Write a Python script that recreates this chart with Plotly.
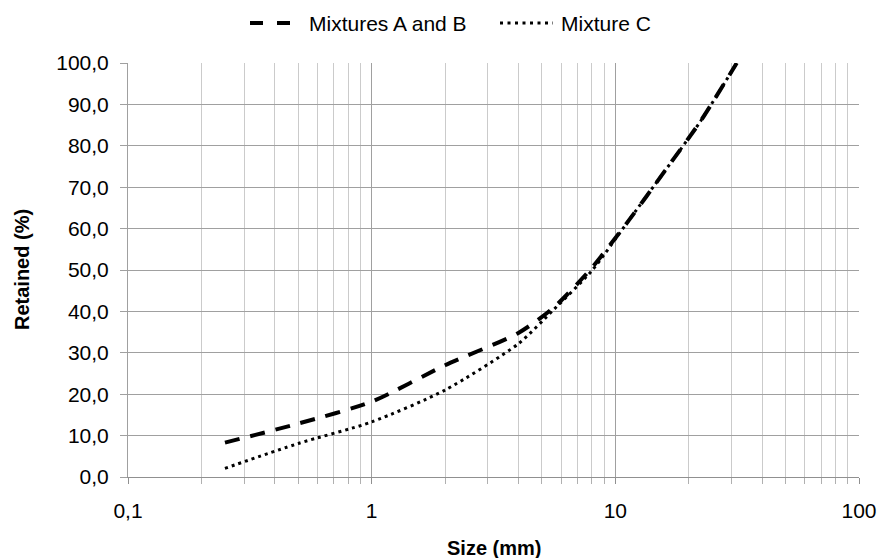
import plotly.graph_objects as go

sizes = [0.25, 0.5, 1, 2, 4, 5.6, 8, 11.2, 16, 22.4, 31.5]
mix_ab = [8.3, 12.9, 18.2, 27.0, 34.8, 41.0, 50.5, 61.5, 74.0, 86.0, 100.0]
mix_c = [2.1, 8.1, 13.3, 21.0, 32.2, 40.5, 49.8, 61.5, 74.0, 86.0, 100.0]

series_names = ["Mixtures A and B", "Mixture C"]
x_major = [0.1, 1, 10, 100]
x_major_text = ["0,1", "1", "10", "100"]
x_minor = [m * d for d in (0.1, 1, 10) for m in range(2, 10)]

FONT = "Liberation Sans, Arial, sans-serif"
FS = 21
W, H = 879, 558
ML, MR, MT, MB = 128, 20, 63, 81
PW, PH = W - ML - MR, H - MT - MB

def px(xpix):
    return (xpix - ML) / PW

def py(ypix):
    return (H - MB - ypix) / PH

DASH_AB = dict(color="black", width=4, dash="15px,11px")
DOT_C = dict(color="black", width=3, dash="3px,4px")

fig = go.Figure()
fig.add_trace(go.Scatter(x=sizes, y=mix_ab, mode="lines", name=series_names[0],
                         line=dict(**DASH_AB, shape="spline", smoothing=0.7)))
fig.add_trace(go.Scatter(x=sizes, y=mix_c, mode="lines", name=series_names[1],
                         line=dict(**DOT_C, shape="spline", smoothing=0.7)))

# legend drawn manually (Excel-style long samples)
leg_y = py(23)
fig.add_shape(type="line", xref="paper", yref="paper", x0=px(250), x1=px(292), y0=leg_y, y1=leg_y,
              line=dict(color="black", width=4, dash="13px,14px"))
fig.add_shape(type="line", xref="paper", yref="paper", x0=px(500), x1=px(553), y0=leg_y, y1=leg_y,
              line=dict(color="black", width=3, dash="3px,4.5px"))
fig.add_annotation(text=series_names[0], xref="paper", yref="paper", x=px(307), y=leg_y,
                   xanchor="left", yanchor="middle", showarrow=False, font=dict(size=FS))
fig.add_annotation(text=series_names[1], xref="paper", yref="paper", x=px(559), y=leg_y,
                   xanchor="left", yanchor="middle", showarrow=False, font=dict(size=FS))

# axis titles
fig.add_annotation(text="<b>Retained (%)</b>", xref="paper", yref="paper", x=px(22), y=0.5,
                   xanchor="center", yanchor="middle", textangle=-90, showarrow=False,
                   font=dict(size=20))
fig.add_annotation(text="<b>Size (mm)</b>", xref="paper", yref="paper", x=0.5, y=py(548),
                   xanchor="center", yanchor="middle", showarrow=False, font=dict(size=20))

fig.update_layout(
    width=W, height=H,
    margin=dict(l=ML, r=MR, t=MT, b=MB, autoexpand=False),
    paper_bgcolor="white", plot_bgcolor="white",
    font=dict(family=FONT, size=FS, color="black"),
    separators=", ",
    showlegend=False,
    hovermode=False,
    xaxis=dict(
        type="log", range=[-1, 2], automargin=False,
        tickmode="array", tickvals=x_major, ticktext=x_major_text,
        showgrid=True, gridcolor="#a0a0a0", gridwidth=1,
        ticks="outside", ticklen=6, tickcolor="#909090",
        ticklabelstandoff=9,
        showline=True, linecolor="#909090", linewidth=1,
        tickfont=dict(size=FS),
        minor=dict(tickmode="array", tickvals=x_minor, showgrid=True, gridcolor="#cbcbcb",
                   ticks="outside", ticklen=6, tickcolor="#b0b0b0"),
        zeroline=False,
    ),
    yaxis=dict(
        range=[0, 100], dtick=10, tick0=0, tickformat=".1f", automargin=False,
        showgrid=True, gridcolor="#a0a0a0", gridwidth=1,
        ticks="outside", ticklen=7, tickcolor="#a0a0a0",
        ticklabelstandoff=7,
        showline=True, linecolor="#a0a0a0", linewidth=1,
        tickfont=dict(size=FS),
        zeroline=False,
    ),
)

fig.write_html("out.html", config={"displayModeBar": False, "staticPlot": True},
               post_script="document.body.style.margin='0';document.body.style.overflow='hidden';")
